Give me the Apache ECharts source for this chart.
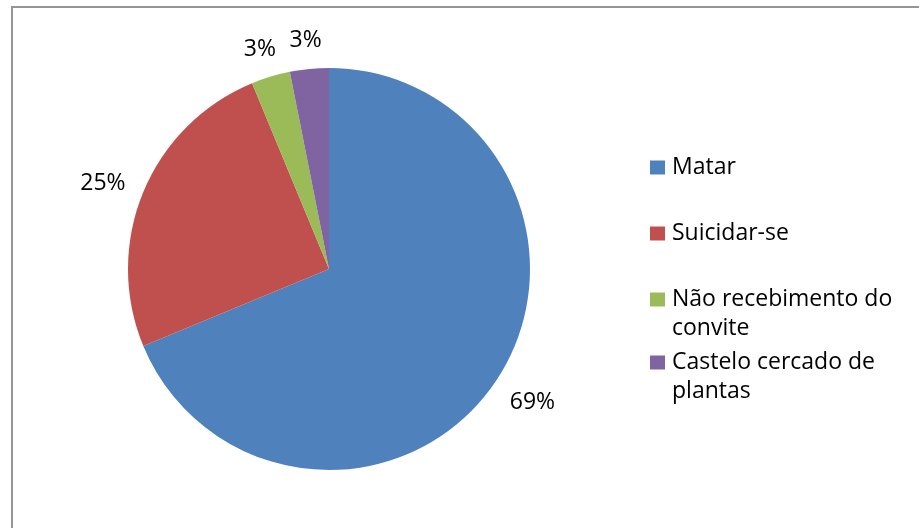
<!DOCTYPE html>
<html>
<head>
<meta charset="utf-8">
<script src="https://cdn.jsdelivr.net/npm/echarts@6/dist/echarts.min.js"></script>
<style>
  html, body { margin: 0; padding: 0; background: #fff; }
  #chart { width: 919px; height: 528px; }
</style>
</head>
<body>
<div id="chart"></div>
<script>
const names = ['Matar', 'Suicidar-se', 'Não recebimento do convite', 'Castelo cercado de plantas']
const values = [22, 8, 1, 1]
const colors = ['#4F81BD', '#C0504D', '#9BBB59', '#8064A2']

const center = [329, 269]
const radius = 201
const fontFamily = '"Open Sans", "Noto Sans", sans-serif'

const myChart = echarts.init(document.getElementById('chart'))

// one legend per item so the uneven Excel spacing can be kept
const legendTops = [153, 219, 256, 319]
const legends = names.map((n, i) => {
  const twoLines = i >= 2
  return {
    data: [n],
    orient: 'vertical',
    left: 650,
    top: legendTops[i],
    padding: 0,
    itemWidth: 15,
    itemHeight: 14,
    itemGap: 7,
    icon: 'rect',
    selectedMode: false,
    // leading empty line keeps the icon on the first text line
    formatter: twoLines ? '\n{name}' : '{name}',
    textStyle: {
      color: '#000',
      fontSize: 23,
      fontFamily: fontFamily,
      lineHeight: 29,
      width: 240,
      overflow: 'break',
      padding: [0, 0, 0, 2]
    }
  }
})

const option = {
  animation: false,
  color: colors,
  graphic: [{
    type: 'rect',
    shape: { x: 12, y: 7, width: 1000, height: 600 },
    style: { fill: 'none', stroke: '#959595', lineWidth: 2 },
    silent: true
  }],
  legend: legends,
  series: [{
    type: 'pie',
    center: center,
    radius: radius,
    startAngle: 90,
    clockwise: true,
    percentPrecision: 0,
    avoidLabelOverlap: false,
    emphasis: { disabled: true },
    itemStyle: { borderWidth: 0 },
    label: {
      show: true,
      position: 'outside',
      formatter: '{d}%',
      color: '#000',
      fontSize: 23,
      fontFamily: fontFamily
    },
    labelLine: { show: false },
    labelLayout: function (p) {
      const total = values.reduce((a, b) => a + b, 0)
      let before = 0
      for (let k = 0; k < p.dataIndex; k++) before += values[k]
      const mid = (before + values[p.dataIndex] / 2) / total * 2 * Math.PI
      const dx = Math.sin(mid)
      const dy = -Math.cos(mid)
      const R = radius + 21
      const w = p.labelRect.width
      const h = p.labelRect.height
      return {
        x: center[0] + dx * (R + w / 2),
        y: center[1] + dy * (R + h / 2) + 4,
        align: 'center',
        verticalAlign: 'middle'
      }
    },
    data: names.map((n, i) => ({ name: n, value: values[i] }))
  }]
}

myChart.setOption(option)
</script>
</body>
</html>
